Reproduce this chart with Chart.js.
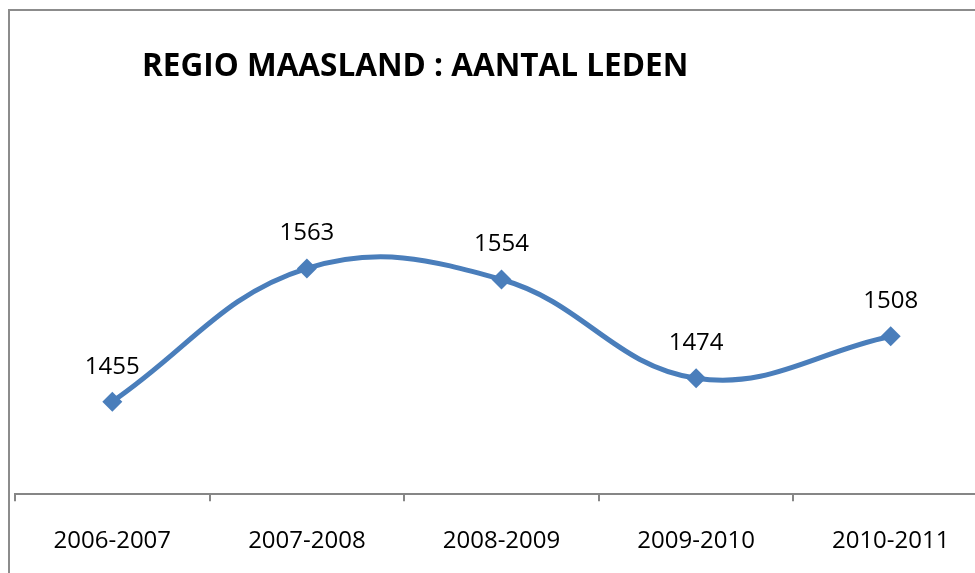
<!DOCTYPE html>
<html>
<head>
<meta charset="utf-8">
<script src="https://cdn.jsdelivr.net/npm/chart.js@4/dist/chart.umd.min.js"></script>
<style>
  html, body { margin: 0; padding: 0; background: #fff; overflow: hidden; width: 975px; height: 573px; }
  #frame { position: absolute; left: 8px; top: 9px; width: 2000px; height: 2000px;
           border-left: 2px solid #8c8c8c; border-top: 2px solid #8c8c8c; box-sizing: border-box; }
  #wrap { position: absolute; left: 0; top: 0; width: 998px; height: 582px; }
  #title { position: absolute; left: 142px; top: 43px; font-family: "Open Sans", sans-serif;
           font-weight: bold; font-size: 31.5px; color: #000; white-space: nowrap; line-height: 42px; }
</style>
</head>
<body>
<div id="frame"></div>
<div id="wrap"><canvas id="c" width="998" height="582"></canvas></div>
<div id="title">REGIO MAASLAND : AANTAL LEDEN</div>
<script>
const categories = ["2006-2007", "2007-2008", "2008-2009", "2009-2010", "2010-2011"];
const members = [1455, 1563, 1554, 1474, 1508];
const yMin = 1380;
const yMax = 1740;

const labelPlugin = {
  id: 'pointLabels',
  afterDatasetsDraw(chart) {
    const ctx = chart.ctx;
    const meta = chart.getDatasetMeta(0);
    ctx.save();
    ctx.font = '24px "Open Sans", sans-serif';
    ctx.fillStyle = '#000';
    ctx.textAlign = 'center';
    ctx.textBaseline = 'middle';
    meta.data.forEach((pt, i) => {
      ctx.fillText(String(members[i]), pt.x, pt.y - 35);
    });
    ctx.restore();
  }
};

new Chart(document.getElementById('c'), {
  type: 'line',
  data: {
    labels: categories,
    datasets: [{
      data: members,
      borderColor: '#4a7ebb',
      backgroundColor: '#4a7ebb',
      borderWidth: 5,
      tension: 0.4,
      pointStyle: 'rectRot',
      pointRadius: 10,
      pointHoverRadius: 10,
      pointBorderWidth: 0,
      fill: false
    }]
  },
  options: {
    responsive: false,
    animation: false,
    devicePixelRatio: 1,
    layout: { padding: { left: 15, right: 0, top: 50, bottom: 0 } },
    plugins: { legend: { display: false }, tooltip: { enabled: false }, title: { display: false } },
    scales: {
      x: {
        offset: true,
        grid: { display: true, drawOnChartArea: false, drawTicks: true, tickLength: 7, color: '#868686', lineWidth: 2, offset: true },
        border: { display: true, color: '#868686', width: 2 },
        ticks: { color: '#000', font: { family: '"Open Sans", sans-serif', size: 24 }, padding: 26, maxRotation: 0 }
      },
      y: {
        display: false,
        min: yMin,
        max: yMax
      }
    }
  },
  plugins: [labelPlugin]
});
</script>
</body>
</html>
